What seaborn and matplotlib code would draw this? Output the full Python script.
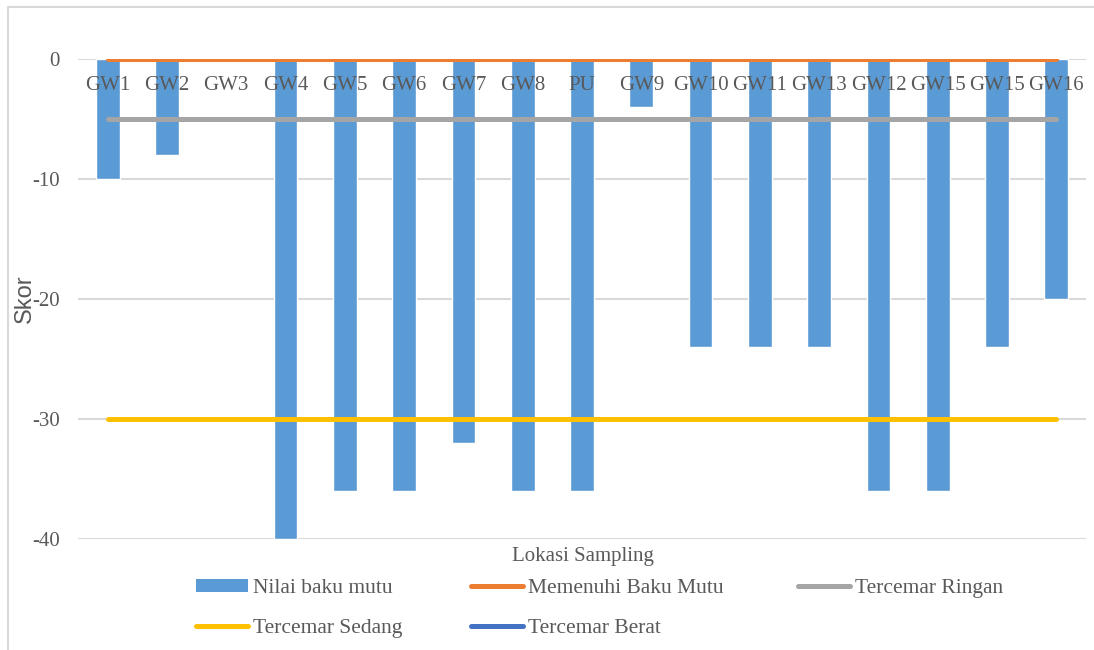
import matplotlib
matplotlib.use("Agg")
import matplotlib.pyplot as plt
from matplotlib.lines import Line2D
from matplotlib.patches import Patch
import seaborn as sns
import pandas as pd

# Sampling locations and their scores
locations = ["GW1", "GW2", "GW3", "GW4", "GW5", "GW6", "GW7", "GW8", "PU", "GW9",
             "GW10", "GW11", "GW13", "GW12", "GW15", "GW15", "GW16"]
scores = [-10, -8, 0, -40, -36, -36, -32, -36, -36, -4,
          -24, -24, -24, -36, -36, -24, -20]

# Classification levels drawn as horizontal reference lines
level_names = ["Memenuhi Baku Mutu", "Tercemar Ringan", "Tercemar Sedang", "Tercemar Berat"]
level_values = [0, -5, -30, None]   # "Tercemar Berat" has no visible line on this scale
level_colors = ["#ED7D31", "#A5A5A5", "#FFC000", "#4472C4"]

yticks = [0, -10, -20, -30, -40]

BAR = "#5B9BD5"
TXT = "#595959"
GRID = "#D9D9D9"

sns.set_theme(style="white")
plt.rcParams["font.family"] = ["Liberation Serif", "DejaVu Serif"]

fig = plt.figure(figsize=(10.94, 6.5), dpi=100)
ax = fig.add_axes([78 / 1094, 1 - 539 / 650, (1086 - 78) / 1094, (539 - 59) / 650])

pos = list(range(len(locations)))
df = pd.DataFrame({"pos": pos, "score": scores})
sns.barplot(data=df, x="pos", y="score", color=BAR, width=0.4, ax=ax,
            saturation=1, zorder=3, errorbar=None)

for name, val, col in zip(level_names, level_values, level_colors):
    if val is None:
        continue
    ax.plot([pos[0], pos[-1]], [val, val], color=col, lw=3.6,
            solid_capstyle="round", zorder=4)

ax.set_xlim(-0.5, len(locations) - 0.5)
ax.set_ylim(-40, 0)
ax.set_yticks(yticks)
ax.set_yticklabels([str(v) for v in yticks])
ax.yaxis.grid(True, color=GRID, lw=1.5, zorder=0)
ax.xaxis.grid(False)
for s in ax.spines.values():
    s.set_visible(False)

# category labels sit just below the zero line, on top of the bars
ax.set_xticks(pos)
ax.set_xticklabels(locations)
ax.tick_params(axis="x", top=False, bottom=False, labeltop=True, labelbottom=False,
               pad=-26, labelsize=15, labelcolor=TXT, length=0)
for lab in ax.get_xticklabels():
    lab.set_verticalalignment("bottom")
ax.xaxis.set_zorder(5)
ax.tick_params(axis="y", left=False, length=0, pad=13, labelsize=15, labelcolor=TXT)

ax.set_xlabel("")
ax.set_ylabel("")
fig.text(583 / 1094, 1 - 557 / 650, "Lokasi Sampling", ha="center", va="center",
         fontsize=15, color=TXT)
fig.text(25 / 1094, 1 - 299 / 650, "Skor", rotation=90, ha="center", va="center",
         fontsize=17, color=TXT, family=["Liberation Sans", "DejaVu Sans"])

# legend laid out in three columns
def line_handle(c):
    return Line2D([0], [0], color=c, lw=3.6, solid_capstyle="round")

columns = [
    ([Patch(facecolor=BAR, edgecolor="none"), line_handle(level_colors[2])],
     ["Nilai baku mutu", level_names[2]], 196),
    ([line_handle(level_colors[0]), line_handle(level_colors[3])],
     [level_names[0], level_names[3]], 471),
    ([line_handle(level_colors[1])], [level_names[1]], 798),
]
for handles, labels, x0 in columns:
    fig.legend(handles, labels, loc="upper left",
               bbox_to_anchor=(x0 / 1094, 1 - 579 / 650), frameon=False,
               fontsize=15.5, labelcolor=TXT, handlelength=2.4, handleheight=0.55,
               handletextpad=0.25, labelspacing=0.95, borderaxespad=0, borderpad=0)

# chart area border
fig.add_artist(Line2D([8 / 1094, 1.01], [1 - 7 / 650, 1 - 7 / 650],
                      transform=fig.transFigure, color=GRID, lw=1.5))
fig.add_artist(Line2D([8 / 1094, 8 / 1094], [-0.01, 1 - 7 / 650],
                      transform=fig.transFigure, color=GRID, lw=1.5))

fig.savefig("out.png", dpi=100, facecolor="white")
